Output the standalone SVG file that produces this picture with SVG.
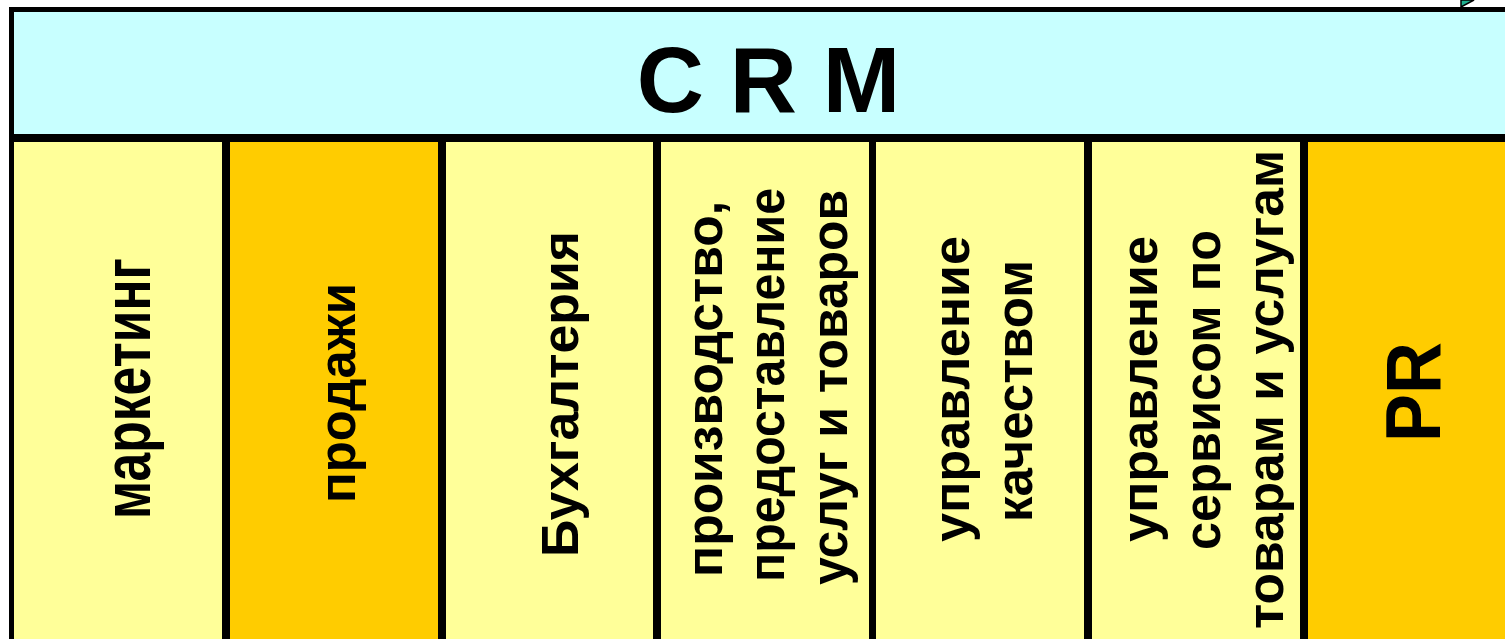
<svg xmlns="http://www.w3.org/2000/svg" width="1505" height="639" viewBox="0 0 1505 639">
<style>
.lt{fill:#FFFF99}
.dk{fill:#FFCC00}
.t{font-family:"Liberation Sans",Arial,sans-serif;font-weight:bold;fill:#000;text-anchor:middle}
.v{font-size:50px}
</style>
<rect width="1505" height="639" fill="#fff"/>
<polygon points="1461,0 1474,0 1461,7" fill="#1FAF8F" stroke="#000" stroke-width="1.5"/>
<rect x="9" y="7" width="1500" height="640" fill="#000"/>
<g id="header">
<rect x="14" y="12" width="1491" height="122" fill="#C8FFFF"/>
<text class="t" x="768.5" y="112" font-size="93">C R M</text>
</g>
<g id="col-marketing">
<rect class="lt" x="14" y="142" width="208" height="497"/>
<text class="t v" transform="translate(150,388.5) rotate(-90) scale(1,1.35)" textLength="261" lengthAdjust="spacingAndGlyphs">маркетинг</text>
</g>
<g id="col-sales">
<rect class="dk" x="230" y="142" width="208" height="497"/>
<text class="t v" transform="translate(355,393) rotate(-90) scale(1,1.05)" textLength="220" lengthAdjust="spacingAndGlyphs">продажи</text>
</g>
<g id="col-accounting">
<rect class="lt" x="446" y="142" width="207" height="497"/>
<text class="t v" transform="translate(578,394) rotate(-90) scale(1,1.05)" textLength="326" lengthAdjust="spacingAndGlyphs">Бухгалтерия</text>
</g>
<g id="col-production">
<rect class="lt" x="661" y="142" width="208" height="497"/>
<text class="t v" transform="translate(722,389) rotate(-90) scale(1,1.05)" textLength="376" lengthAdjust="spacingAndGlyphs">производство,</text>
<text class="t v" transform="translate(784,385) rotate(-90) scale(1,1.05)" textLength="394" lengthAdjust="spacingAndGlyphs">предоставление</text>
<text class="t v" transform="translate(847,387.5) rotate(-90) scale(1,1.05)" textLength="395" lengthAdjust="spacingAndGlyphs">услуг и товаров</text>
</g>
<g id="col-quality">
<rect class="lt" x="876" y="142" width="208" height="497"/>
<text class="t v" transform="translate(969,389) rotate(-90) scale(1,1.05)" textLength="306" lengthAdjust="spacingAndGlyphs">управление</text>
<text class="t v" transform="translate(1032,391) rotate(-90) scale(1,1.05)" textLength="262" lengthAdjust="spacingAndGlyphs">качеством</text>
</g>
<g id="col-service">
<rect class="lt" x="1092" y="142" width="208" height="497"/>
<text class="t v" transform="translate(1157,389) rotate(-90) scale(1,1.05)" textLength="306" lengthAdjust="spacingAndGlyphs">управление</text>
<text class="t v" transform="translate(1220,390) rotate(-90) scale(1,1.05)" textLength="320" lengthAdjust="spacingAndGlyphs">сервисом по</text>
<text class="t v" transform="translate(1283,389.5) rotate(-90) scale(1,1.05)" textLength="479" lengthAdjust="spacingAndGlyphs">товарам и услугам</text>
</g>
<g id="col-pr">
<rect class="dk" x="1308" y="142" width="197" height="497"/>
<text class="t" font-size="72" transform="translate(1440,392) rotate(-90) scale(1,1.08)">PR</text>
</g>
<g id="connectors"/>
</svg>
